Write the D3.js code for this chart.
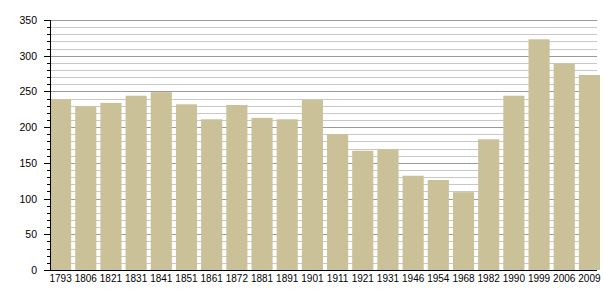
<!DOCTYPE html>
<html>
<head>
<meta charset="utf-8">
<script src="https://cdn.jsdelivr.net/npm/d3@7"></script>
<style>
  html, body { margin: 0; padding: 0; width: 100%; height: 100%; background: #fff; overflow: hidden; }
  svg { display: block; }
  svg text { font-family: "Liberation Sans", Arial, sans-serif; fill: #000; }
</style>
</head>
<body>
<script>
// data
const years = ['1793', '1806', '1821', '1831', '1841', '1851', '1861', '1872', '1881', '1891', '1901',
  '1911', '1921', '1931', '1946', '1954', '1968', '1982', '1990', '1999', '2006', '2009']
const population = [239, 229, 234, 244, 249, 232, 211, 231, 213, 211, 238,
  190, 167, 169, 132, 126, 109, 183, 244, 323, 289, 273]
const yTicks = [0, 50, 100, 150, 200, 250, 300, 350]

// variables
const width = 605
const height = 300
const margin = { top: 20, right: 8, bottom: 30, left: 50 }
const innerWidth = 550
const innerHeight = height - margin.top - margin.bottom
const barColor = '#cbc199'

// viewBox so the whole chart always fits the window
const svg = d3.select('body')
  .append('svg')
  .attr('width', '100%')
  .attr('height', '100%')
  .attr('viewBox', `0 0 ${width} ${height}`)

const main = svg.append('g')
  .attr('transform', `translate(${margin.left}, ${margin.top})`)

// scales
const xScale = d3.scaleBand()
  .domain(years)
  .range([0, innerWidth])
  .paddingInner(0.16)
  .paddingOuter(0)
  .align(0)

const yScale = d3.scaleLinear()
  .domain([0, 350])
  .range([innerHeight, 0])

// grid lines, minor every 10, major every 50
const gridRight = innerWidth - 3
main.append('g')
  .selectAll('line')
  .data(d3.range(10, 351, 10))
  .enter()
  .append('line')
  .attr('x1', 0)
  .attr('x2', gridRight)
  .attr('y1', d => Math.round(yScale(d)) + 0.5)
  .attr('y2', d => Math.round(yScale(d)) + 0.5)
  .attr('stroke', d => d % 50 === 0 ? '#9a9a9a' : '#c8c8c8')
  .attr('stroke-width', 1)

// bars
main.append('g')
  .selectAll('rect')
  .data(population)
  .enter()
  .append('rect')
  .attr('x', (d, i) => xScale(years[i]))
  .attr('y', d => yScale(d))
  .attr('width', xScale.bandwidth())
  .attr('height', d => innerHeight - yScale(d))
  .attr('fill', barColor)

// y axis ticks (major)
main.append('g')
  .selectAll('line')
  .data(yTicks)
  .enter()
  .append('line')
  .attr('x1', -6)
  .attr('x2', 0)
  .attr('y1', d => Math.round(yScale(d)) + 0.5)
  .attr('y2', d => Math.round(yScale(d)) + 0.5)
  .attr('stroke', '#000')

// minor ticks
main.append('g')
  .selectAll('line')
  .data(d3.range(10, 351, 10).filter(d => d % 50 !== 0))
  .enter()
  .append('line')
  .attr('x1', -3)
  .attr('x2', 0)
  .attr('y1', d => Math.round(yScale(d)) + 0.5)
  .attr('y2', d => Math.round(yScale(d)) + 0.5)
  .attr('stroke', '#000')

// y labels
main.append('g')
  .selectAll('text')
  .data(yTicks)
  .enter()
  .append('text')
  .attr('x', -13)
  .attr('y', d => yScale(d) + 4)
  .attr('text-anchor', 'end')
  .style('font-size', '10.5px')
  .text(d => d)

// y axis line
main.append('line')
  .attr('x1', 0.5).attr('x2', 0.5)
  .attr('y1', 0).attr('y2', innerHeight)
  .attr('stroke', '#000')

// x axis line
main.append('line')
  .attr('x1', 0).attr('x2', gridRight)
  .attr('y1', innerHeight + 0.5).attr('y2', innerHeight + 0.5)
  .attr('stroke', '#000')

// x labels
main.append('g')
  .selectAll('text')
  .data(years)
  .enter()
  .append('text')
  .attr('x', d => xScale(d) + xScale.bandwidth() / 2)
  .attr('y', innerHeight + 12)
  .attr('text-anchor', 'middle')
  .style('font-size', '10px')
  .text(d => d)
</script>
</body>
</html>
